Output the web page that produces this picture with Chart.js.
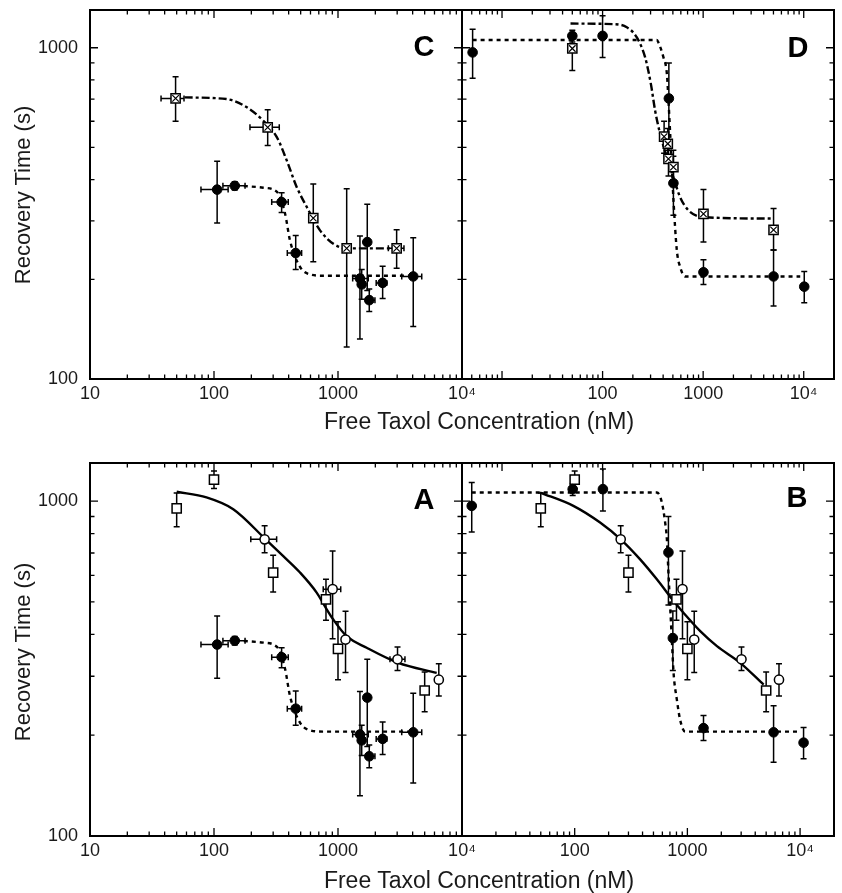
<!DOCTYPE html>
<html><head><meta charset="utf-8">
<script src="https://cdn.jsdelivr.net/npm/chart.js@4.4.1/dist/chart.umd.min.js"></script>
<style>
html,body{margin:0;padding:0;background:#fff;}
#wrap{position:relative;width:842px;height:893px;overflow:hidden;font-family:"Liberation Sans",Arial,sans-serif;color:#1a1a1a;}
canvas{position:absolute;}
.lbl{position:absolute;white-space:nowrap;line-height:1;transform:translate(-50%,-50%);}
.ytitle{transform:translate(-50%,-50%) rotate(-90deg);font-size:22px;}
.xtitle{font-size:23px;}
.panel{font-weight:bold;font-size:29px;color:#000;}
</style></head><body>
<div id="wrap">
<canvas id="cC" width="490" height="410" style="left:0px;top:0px"></canvas>
<canvas id="cD" width="402" height="410" style="left:440px;top:0px"></canvas>
<canvas id="cA" width="490" height="430" style="left:0px;top:440px"></canvas>
<canvas id="cB" width="402" height="430" style="left:440px;top:440px"></canvas>
<div class="lbl ytitle" style="left:23px;top:195px">Recovery Time (s)</div>
<div class="lbl ytitle" style="left:23px;top:652px">Recovery Time (s)</div>
<div class="lbl xtitle" style="left:479px;top:421px">Free Taxol Concentration (nM)</div>
<div class="lbl xtitle" style="left:479px;top:880px">Free Taxol Concentration (nM)</div>
<div class="lbl panel" style="left:424px;top:46px">C</div>
<div class="lbl panel" style="left:798px;top:47px">D</div>
<div class="lbl panel" style="left:424px;top:499px">A</div>
<div class="lbl panel" style="left:797px;top:497px">B</div>
</div>
<script>
// ---------- tick labels ----------
const xLabelsLeft = [10, 100, 1000, 10000];
const xLabelsRight = [100, 1000, 10000];
const yLabels = [100, 1000];
const yTickVals = [200, 300, 400, 500, 600, 700, 800, 900, 1000];

// ---------- panels C & A : filled circles (shared) ----------
const fcX_AC   = [106, 147, 351, 456, 1503, 1553, 1722, 1787, 2291, 4044];
const fcY_AC   = [373, 383, 342, 240, 201, 193, 259, 173, 195, 204];
const fcYlo_AC = [296, 372, 318, 214, 132, 174, 185, 160, 175, 144];
const fcYhi_AC = [454, 394, 365, 271, 270, 214, 337, 187, 219, 267];
const fcXlo_AC = [78.5, 118, 292, 390, 1313, null, 1640, 1682, 2032, 3265];
const fcXhi_AC = [130, 178, 397, 509, 1754, null, 1810, 1986, 2472, 4735];
const fitFcX_AC = [150, 250, 322, 374, 410, 494, 594, 757, 4030];
const fitFcY_AC = [384, 378, 367, 316, 262, 218, 207, 205, 205];

// ---------- panel C : crossed squares ----------
const xsX_C   = [49, 271, 632, 1175, 2971];
const xsY_C   = [703, 575, 306, 248, 248];
const xsYlo_C = [600, 507, 226, 125, 216];
const xsYhi_C = [818, 650, 388, 375, 282];
const xsXlo_C = [37.4, 195, null, null, 2547];
const xsXhi_C = [57.3, 336, null, null, 3404];
const fitXsX_C = [58, 126, 184, 250, 321, 386, 464, 559, 716, 917, 1175, 2971];
const fitXsY_C = [708, 700, 661, 602, 537, 457, 380, 331, 281, 256, 248, 248];

// ---------- panels D & B : filled circles ----------
const fcX_D    = [5.1, 50, 100, 456, 506, 1007, 5012, 10120];
const fcX_B    = [12.2, 96, 178, 679, 743, 1390, 5820, 10740];
const fcY_BD   = [968, 1086, 1086, 703, 390, 210, 204, 190];
const fcYlo_BD = [809, 1040, 935, 490, 312, 193, 166, 170];
const fcYhi_BD = [1137, 1130, 1248, 900, 470, 229, 245, 211];
const fitFcX_D = [5.1, 346, 359, 403, 436, 452, 470, 488, 507, 547, 590, 662, 9230];
const fitFcY_D = [1055, 1055, 1037, 935, 833, 692, 550, 436, 346, 245, 218, 204, 204];
const fitFcX_B = [12.2, 536, 594, 635, 658, 679, 703, 728, 754, 807, 863, 955, 9700];
const fitFcY_B = [1061, 1061, 990, 863, 769, 612, 486, 386, 307, 255, 222, 205, 205];

// ---------- panel D : crossed squares ----------
const xsX_D   = [50, 409, 445, 452, 506, 1007, 5012];
const xsY_D   = [995, 539, 513, 462, 436, 315, 282];
const xsYlo_D = [853, 480, 460, 410, 390, 259, 245];
const xsYhi_D = [1110, 600, 570, 520, 490, 373, 327];
const fitXsX_D = [48, 128, 174, 219, 265, 302, 333, 373, 436, 506, 590, 714, 1007, 5012];
const fitXsY_D = [1183, 1178, 1153, 1074, 935, 778, 646, 550, 467, 406, 354, 323, 308, 305];

// ---------- panels A & B : open squares / open circles ----------
const osX_AB   = [50, 100, 300, 800, 1000, 5000];
const osY_AB   = [951, 1159, 612, 509, 362, 272];
const osYlo_AB = [839, 1091, 535, 441, 293, 235];
const osYhi_AB = [1057, 1231, 689, 584, 436, 309];
const ocX_AB   = [256, 905, 1150, 3020, 6500];
const ocY_AB   = [769, 546, 386, 337, 293];
const ocYlo_AB = [701, 388, 308, 312, 262];
const ocYhi_AB = [844, 710, 469, 367, 327];
const ocXlo_A  = [198, 760, null, 2625, null];
const ocXhi_A  = [320, 1052, null, 3467, null];
const fitOX_A = [50, 87, 143, 261, 362, 494, 673, 811, 916, 1175, 1703, 3063, 6250];
const fitOY_A = [1067, 1026, 946, 769, 685, 612, 533, 475, 443, 395, 365, 329, 307];
const fitOX_B = [49.3, 97.3, 168, 256, 381, 536, 754, 923, 1300, 1829, 2944, 4747];
const fitOY_B = [1061, 968, 863, 769, 670, 584, 503, 464, 409, 369, 329, 283];

// ---------- helpers ----------
const FONT = "'Liberation Sans', Arial, sans-serif";
const pts = (xs, ys) => xs.map((x, i) => ({x: x, y: ys[i]}));
const errs = (lo, hi) => lo.map((l, i) => (l == null ? null : [l, hi[i]]));
const labelText = v => (v === 10000 ? '10\u2074' : String(v));

function curve(xs, ys, dash, w) {
  return {data: pts(xs, ys), showLine: true, pointRadius: 0, borderColor: '#000', borderWidth: w || 2.4,
    borderDash: dash, fill: false, cubicInterpolationMode: 'monotone', tension: 0.4, order: 5, xAxisID: 'x'};
}
function filled(xs, ys, eY, eX) {
  return {data: pts(xs, ys), pointStyle: 'circle', pointRadius: 4.8, backgroundColor: '#000', borderColor: '#000',
    borderWidth: 1, errY: eY, errX: eX, order: 2, xAxisID: 'x'};
}
function openSq(xs, ys, eY, eX) {
  return {data: pts(xs, ys), pointStyle: 'rect', pointRadius: 6.5, backgroundColor: '#fff', borderColor: '#000',
    borderWidth: 1.5, errY: eY, errX: eX, order: 2, xAxisID: 'x'};
}
function openCi(xs, ys, eY, eX) {
  return {data: pts(xs, ys), pointStyle: 'circle', pointRadius: 4.6, backgroundColor: '#fff', borderColor: '#000',
    borderWidth: 1.5, errY: eY, errX: eX, order: 2, xAxisID: 'x'};
}
function crossMark(xs, ys) {
  return {data: pts(xs, ys), pointStyle: 'crossRot', pointRadius: 4.6, borderColor: '#000', borderWidth: 1.2,
    order: 1, xAxisID: 'x'};
}

const decor = {
  id: 'decor',
  beforeDatasetsDraw(chart) {
    const {ctx} = chart; const x = chart.scales.x, y = chart.scales.y;
    ctx.save(); ctx.strokeStyle = '#000'; ctx.lineWidth = 1.5; ctx.setLineDash([]);
    const cap = 3;
    chart.data.datasets.forEach(ds => {
      ds.data.forEach((p, i) => {
        const px = x.getPixelForValue(p.x), py = y.getPixelForValue(p.y);
        ctx.beginPath();
        if (ds.errY && ds.errY[i]) {
          const a = y.getPixelForValue(ds.errY[i][0]), b = y.getPixelForValue(ds.errY[i][1]);
          ctx.moveTo(px, a); ctx.lineTo(px, b);
          ctx.moveTo(px - cap, a); ctx.lineTo(px + cap, a);
          ctx.moveTo(px - cap, b); ctx.lineTo(px + cap, b);
        }
        if (ds.errX && ds.errX[i]) {
          const a = x.getPixelForValue(ds.errX[i][0]), b = x.getPixelForValue(ds.errX[i][1]);
          ctx.moveTo(a, py); ctx.lineTo(b, py);
          ctx.moveTo(a, py - cap); ctx.lineTo(a, py + cap);
          ctx.moveTo(b, py - cap); ctx.lineTo(b, py + cap);
        }
        ctx.stroke();
      });
    });
    ctx.restore();
  },
  afterDraw(chart) {
    const {ctx, chartArea: a, scales} = chart;
    const xb = scales.x, xt = scales.xTop || scales.x, y = scales.y;
    const logTicks = s => { const out = [];
      for (let k = -1; k <= 5; k++) for (let m = 1; m <= 9; m++) { const v = m * Math.pow(10, k);
        if (v > s.min * 1.001 && v < s.max * 0.999) out.push({v: v, major: m === 1}); }
      return out; };
    ctx.save(); ctx.strokeStyle = '#000'; ctx.lineWidth = 1.3; ctx.setLineDash([]);
    ctx.beginPath();
    logTicks(xb).forEach(t => { const px = xb.getPixelForValue(t.v), L = t.major ? 8 : 4.5;
      ctx.moveTo(px, a.bottom); ctx.lineTo(px, a.bottom - L); });
    logTicks(xt).forEach(t => { const px = xt.getPixelForValue(t.v), L = t.major ? 8 : 4.5;
      ctx.moveTo(px, a.top); ctx.lineTo(px, a.top + L); });
    yTickVals.forEach(v => { const py = y.getPixelForValue(v), L = v === 1000 ? 8 : 4.5;
      ctx.moveTo(a.left, py); ctx.lineTo(a.left + L, py);
      ctx.moveTo(a.right, py); ctx.lineTo(a.right - L, py); });
    ctx.stroke();
    ctx.lineWidth = 2;
    ctx.strokeRect(a.left, a.top, a.right - a.left, a.bottom - a.top);
    ctx.restore();
  }
};

function panel(id, o) {
  const scales = {
    x: {type: 'logarithmic', position: 'bottom', min: o.xMin, max: o.xMax,
      grid: {display: false, drawTicks: false}, border: {display: false},
      ticks: {autoSkip: false, maxRotation: 0, minRotation: 0, padding: 4, color: '#1a1a1a',
        font: {family: FONT, size: 18}, callback: v => labelText(v)},
      afterBuildTicks: s => { s.ticks = o.xLabels.map(v => ({value: v})); },
      afterFit: s => { s.height = o.xH; s.paddingLeft = 0; s.paddingRight = 0; }},
    y: {type: 'logarithmic', position: 'left', min: 100, max: 1300, display: o.showY,
      grid: {display: false, drawTicks: false}, border: {display: false},
      ticks: {autoSkip: false, padding: 12, color: '#1a1a1a', font: {family: FONT, size: 18},
        callback: v => String(v)},
      afterBuildTicks: s => { s.ticks = yLabels.map(v => ({value: v})); },
      afterFit: s => { s.width = o.showY ? 90 : 0; s.paddingTop = 0; s.paddingBottom = 0; }}
  };
  if (o.topMin) scales.xTop = {type: 'logarithmic', position: 'top', display: false, min: o.topMin, max: o.topMax};
  return new Chart(document.getElementById(id), {
    type: 'scatter',
    data: {datasets: o.datasets},
    options: {responsive: false, animation: false, devicePixelRatio: 1,
      layout: {padding: o.pad},
      plugins: {legend: {display: false}, tooltip: {enabled: false}},
      scales: scales},
    plugins: [decor]
  });
}

const DOT = [4, 4], DASHDOT = [8, 3, 3, 3];

panel('cC', {xMin: 10, xMax: 10000, xLabels: xLabelsLeft, showY: true, xH: 31,
  pad: {left: 0, top: 10, right: 28, bottom: 0},
  datasets: [
    curve(fitFcX_AC, fitFcY_AC, DOT),
    curve(fitXsX_C, fitXsY_C, DASHDOT),
    filled(fcX_AC, fcY_AC, errs(fcYlo_AC, fcYhi_AC), errs(fcXlo_AC, fcXhi_AC)),
    openSq(xsX_C, xsY_C, errs(xsYlo_C, xsYhi_C), errs(xsXlo_C, xsXhi_C)),
    crossMark(xsX_C, xsY_C)
  ]});

panel('cD', {xMin: 4, xMax: 20000, xLabels: xLabelsRight, showY: false, xH: 31,
  pad: {left: 22, top: 10, right: 8, bottom: 0},
  datasets: [
    curve(fitFcX_D, fitFcY_D, DOT),
    curve(fitXsX_D, fitXsY_D, DASHDOT),
    filled(fcX_D, fcY_BD, errs(fcYlo_BD, fcYhi_BD), null),
    openSq(xsX_D, xsY_D, errs(xsYlo_D, xsYhi_D), null),
    crossMark(xsX_D, xsY_D)
  ]});

panel('cA', {xMin: 10, xMax: 10000, xLabels: xLabelsLeft, showY: true, xH: 34,
  pad: {left: 0, top: 23, right: 28, bottom: 0},
  datasets: [
    curve(fitFcX_AC, fitFcY_AC, DOT),
    curve(fitOX_A, fitOY_A, [], 2.4),
    filled(fcX_AC, fcY_AC, errs(fcYlo_AC, fcYhi_AC), errs(fcXlo_AC, fcXhi_AC)),
    openSq(osX_AB, osY_AB, errs(osYlo_AB, osYhi_AB), null),
    openCi(ocX_AB, ocY_AB, errs(ocYlo_AB, ocYhi_AB), errs(ocXlo_A, ocXhi_A))
  ]});

panel('cB', {xMin: 10, xMax: 20000, topMin: 4, topMax: 20000, xLabels: xLabelsRight, showY: false, xH: 34,
  pad: {left: 22, top: 23, right: 8, bottom: 0},
  datasets: [
    curve(fitFcX_B, fitFcY_B, DOT),
    curve(fitOX_B, fitOY_B, [], 2.4),
    filled(fcX_B, fcY_BD, errs(fcYlo_BD, fcYhi_BD), null),
    openSq(osX_AB, osY_AB, errs(osYlo_AB, osYhi_AB), null),
    openCi(ocX_AB, ocY_AB, errs(ocYlo_AB, ocYhi_AB), null)
  ]});
</script>
</body></html>
